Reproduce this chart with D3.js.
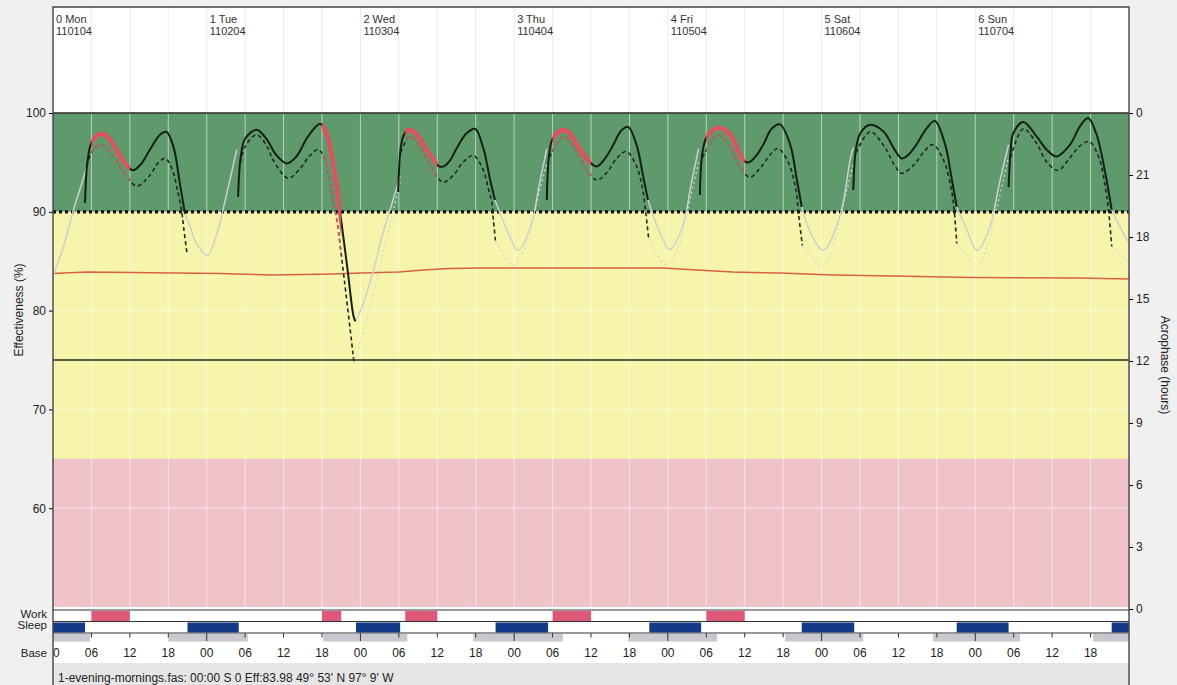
<!DOCTYPE html>
<html>
<head>
<meta charset="utf-8">
<script src="https://cdn.jsdelivr.net/npm/d3@7"></script>
<style>
  body { margin: 0; background: #f0f0f0; }
  svg { display: block; font-family: "Liberation Sans", Arial, sans-serif; }
</style>
</head>
<body>
<svg id="chart" width="1177" height="685"></svg>
<script>
// ---- data (x = hours from Mon 00:00, y = effectiveness %) ----
const dayNames = ["0 Mon", "1 Tue", "2 Wed", "3 Thu", "4 Fri", "5 Sat", "6 Sun"];
const dayDates = ["110104", "110204", "110304", "110404", "110504", "110604", "110704"];
const hourLabels = ["00", "06", "12", "18"];
const leftTicks = [100, 90, 80, 70, 60];
const rightTicks = [24, 21, 18, 15, 12, 9, 6, 3, 0];
const gridValues = [80, 70, 60];
const bandLimits = [[90, 100], [65, 90], [50, 65]];
const criterion = 75;
const threshold = 90;

const workPeriods = [[6, 12], [42, 45], [55, 60], [78, 84], [102, 108]];
const sleepPeriods = [[0, 5], [21, 29], [47.3, 54.2], [69.1, 77.3], [93.1, 101.2], [116.9, 125.1], [141.1, 149.2], [165.3, 168]];
const basePeriods = [[0, 5.8], [18, 30.4], [42.2, 55.3], [65.6, 79.6], [89.8, 103.7], [114.3, 126.5], [137.4, 151], [162.4, 168]];

const meanEff = [[0, 83.75], [5.3, 83.9], [26, 83.75], [33.9, 83.6], [43.7, 83.7], [48, 83.8], [54, 83.9], [57.8, 84.1],
  [62, 84.25], [66.7, 84.3], [95.2, 84.3], [100.5, 84.1], [106.2, 83.9], [113.5, 83.8], [121.8, 83.6], [131.1, 83.5],
  [143.6, 83.35], [160, 83.3], [168, 83.2]];

const effSolid = [
  [[5.0, 90.9], [5.3, 94.6], [5.8, 96.6], [6.5, 97.5], [7.6, 97.9], [8.8, 97.4], [9.9, 96.25], [11.5, 94.7], [12.5, 94.2], [13.7, 94.8], [15.1, 96.25], [16.7, 97.8], [17.7, 98.1], [18.8, 96.6], [19.8, 92.9], [20.6, 89.8]],
  [[28.9, 91.5], [29.3, 95.5], [30, 97.4], [31.8, 98.3], [33.3, 97.4], [34.8, 95.8], [36.5, 94.9], [38, 95.6], [39.8, 97.6], [41.7, 98.9], [42.7, 97.9], [43.8, 94.6], [44.5, 91.5], [44.9, 89.6], [46, 84.1], [46.9, 79.5], [47.2, 78.9]],
  [[53.9, 92], [54.3, 96.5], [54.8, 97.8], [55.7, 98.3], [56.8, 97.8], [57.8, 96.8], [59.2, 95.5], [60.3, 94.6], [61, 94.6], [62, 95.2], [63, 96.4], [64.5, 97.9], [65.9, 98.4], [67.2, 96.4], [68.2, 93.4], [69, 91.2]],
  [[77.1, 91.2], [77.5, 96], [78.1, 97.5], [79.7, 98.3], [80.8, 97.8], [81.8, 96.8], [83.2, 95.5], [84.4, 94.7], [85, 94.6], [86.2, 95.4], [87.5, 96.8], [88.7, 98.2], [89.8, 98.6], [91.1, 96.8], [92.2, 93.4], [92.9, 91.2]],
  [[101, 91.7], [101.4, 96], [102.1, 97.6], [103.9, 98.5], [105.7, 97.8], [107, 96.1], [107.8, 95.2], [108.6, 95], [109.7, 95.6], [110.9, 96.8], [112.2, 98.4], [113.5, 98.85], [115.1, 96.8], [116.1, 93.4], [116.9, 90.5]],
  [[124.95, 92.2], [125.4, 96.5], [126.1, 98], [127.6, 98.8], [129.7, 98.1], [131.3, 96.4], [132.5, 95.4], [133.6, 95.8], [134.8, 96.8], [136.4, 98.45], [137.7, 99.2], [139.3, 96.8], [140.3, 93.4], [141.1, 90.5]],
  [[149.2, 92.5], [149.5, 96], [149.9, 97.9], [151.5, 99.1], [153.6, 97.6], [155.2, 96.25], [156.7, 95.6], [158.8, 96.8], [160.3, 98.6], [161.6, 99.5], [162.9, 97.9], [164.3, 93.9], [165.3, 90.2]]
];

const effDashed = [
  [[5.3, 94.6], [6, 96], [7.5, 96.8], [9.5, 95.5], [11.5, 93.6], [13.1, 92.6], [15, 93.6], [16.5, 95], [17.5, 95.4], [18.5, 94.5], [19.4, 92.3], [20.1, 90], [20.4, 88.4], [20.9, 85.9]],
  [[29.3, 95], [30, 96.6], [31.8, 97.8], [33.5, 96.5], [34.4, 95.2], [36.7, 93.4], [38.5, 94.3], [40, 95.6], [41.4, 96.3], [42.5, 95.2], [43.7, 91.2], [44.3, 89.2], [45.5, 83], [47, 74.7]],
  [[54.3, 96], [55.7, 97.6], [57.5, 96.3], [59.5, 94], [60.9, 93], [62.5, 93.7], [64, 95], [65.6, 95.7], [67, 94.5], [68, 92.3], [68.5, 91], [68.75, 89.2], [69.1, 87]],
  [[77.5, 95.5], [79.7, 97.6], [81.5, 96.3], [83.3, 94.3], [84.9, 93.2], [86.5, 94], [88, 95.4], [89.5, 96.1], [91, 94.8], [92, 92.5], [92.5, 90.2], [93, 87.3]],
  [[101.4, 95.5], [103.9, 97.8], [105.8, 96.5], [107.3, 94.5], [108.8, 93.5], [110.5, 94.5], [112, 95.8], [113.2, 96.4], [114.8, 95], [116, 92.2], [116.4, 89.8], [117, 86.6]],
  [[125.4, 96], [127.6, 98.1], [129.8, 96.6], [131.5, 94.6], [132.5, 93.9], [134.5, 94.8], [136, 96.1], [137.4, 96.8], [139, 95.3], [140.2, 92.5], [140.7, 90.2], [141.1, 86.8]],
  [[149.5, 95.5], [151.5, 98.4], [153.5, 97], [155.2, 95], [156.9, 94.2], [158.8, 95.5], [160.4, 96.7], [161.8, 97.1], [163.3, 95.5], [164.3, 92.5], [164.8, 90.2], [165.3, 86.5]]
];

const grayCurve = [
  [[0, 83.5], [1.6, 86.4], [3.2, 90.2], [4.5, 92.9], [5.3, 94.6]],
  [[20.6, 89.8], [21.4, 88.5], [22.4, 86.8], [24.1, 85.6], [25.6, 87.8], [26.9, 91.2], [28.7, 96.3]],
  [[47.2, 78.9], [48.5, 80.8], [50, 84], [51.5, 87.8], [53, 91], [54.2, 93.6]],
  [[69, 91.2], [70.8, 88.3], [72.6, 86.1], [74.5, 88.3], [76, 93], [77.1, 96.4]],
  [[92.9, 91.2], [94.5, 88.3], [96.3, 86.2], [98.2, 88.3], [99.7, 93], [100.8, 96.4]],
  [[116.9, 90.5], [118.2, 88], [120.3, 86.1], [122.9, 89.7], [124.5, 95.4], [124.95, 96.5]],
  [[141.1, 90.5], [142.6, 88.3], [144.3, 86.1], [146.2, 88.3], [147.8, 93], [149.2, 96.8]],
  [[165.3, 90.2], [166.8, 88.2], [168, 86.8]]
];

const grayDotted = [
  [[47, 74.7], [48.8, 78.6], [50.5, 83], [52.3, 88], [54.2, 93]],
  [[69.1, 87], [70.5, 85.5], [71.8, 84.6], [73.4, 86], [75, 89.7], [77.1, 95]],
  [[93, 87.3], [94.5, 85.5], [95.8, 84.6], [97.4, 86], [99, 90], [100.8, 95]],
  [[117, 86.6], [118.5, 85.5], [120, 84.4], [121.5, 86], [123.3, 90.5], [125, 95]],
  [[141.1, 86.8], [142.6, 85.5], [144.1, 84.5], [145.6, 86], [147.4, 90.5], [149.2, 95.5]],
  [[165.3, 86.5], [168, 84.8]]
];

// ---- layout ----
const svg = d3.select("#chart");
const left = 53, right = 1129, frameTop = 7, plotTop = 113, plotBottom = 607;

const x = d3.scaleLinear().domain([0, 168]).range([left, right]);
const y = d3.scaleLinear().domain([50, 100]).range([plotBottom, plotTop]);
const yR = d3.scaleLinear().domain([0, 24]).range([609, 113]);
const line = d3.line().x(d => x(d[0])).y(d => y(d[1])).curve(d3.curveCatmullRom.alpha(0.5));

const defs = svg.append("defs");
defs.append("clipPath").attr("id", "plotClip")
  .append("rect").attr("x", left).attr("y", frameTop).attr("width", right - left).attr("height", 680);
const workClip = defs.append("clipPath").attr("id", "workClip");
workClip.selectAll("rect").data(workPeriods).join("rect")
  .attr("x", d => x(d[0])).attr("width", d => x(d[1]) - x(d[0]))
  .attr("y", plotTop).attr("height", plotBottom - plotTop);

// frame background
svg.append("rect").attr("x", left).attr("y", frameTop).attr("width", right - left).attr("height", plotTop - frameTop).attr("fill", "#fff");
svg.append("rect").attr("x", left).attr("y", plotBottom).attr("width", right - left).attr("height", 56).attr("fill", "#fff");
svg.append("rect").attr("x", left).attr("y", 663).attr("width", right - left).attr("height", 22).attr("fill", "#e6e6e6");

// effectiveness bands
const bandColors = ["#5f9a6d", "#f7f5ab", "#f0c3cb"];
svg.append("g").selectAll("rect").data(bandLimits).join("rect")
  .attr("x", left).attr("width", right - left)
  .attr("y", d => y(d[1])).attr("height", d => y(d[0]) - y(d[1]))
  .attr("fill", (d, i) => bandColors[i]);

// vertical grid every 6 h
const gridHours = d3.range(6, 168, 6);
svg.append("g").selectAll("line").data(gridHours).join("line")
  .attr("x1", d => x(d)).attr("x2", d => x(d))
  .attr("y1", frameTop).attr("y2", plotTop)
  .attr("stroke", "#ececec");
svg.append("g").selectAll("line").data(gridHours).join("line")
  .attr("x1", d => x(d)).attr("x2", d => x(d))
  .attr("y1", plotTop).attr("y2", plotBottom)
  .attr("stroke", "#fff").attr("stroke-opacity", 0.55);
svg.append("g").selectAll("line").data(gridValues).join("line")
  .attr("x1", left).attr("x2", right)
  .attr("y1", d => y(d)).attr("y2", d => y(d))
  .attr("stroke", "#fff").attr("stroke-opacity", 0.6);

// criterion line and mean effectiveness
svg.append("line").attr("x1", left).attr("x2", right).attr("y1", y(criterion)).attr("y2", y(criterion))
  .attr("stroke", "#1f2d1f").attr("stroke-width", 1.6);
svg.append("path").datum(meanEff).attr("d", d3.line().x(d => x(d[0])).y(d => y(d[1])))
  .attr("fill", "none").attr("stroke", "#d8613f").attr("stroke-width", 1.5);

// threshold dotted line
svg.append("line").attr("x1", left).attr("x2", right).attr("y1", y(threshold)).attr("y2", y(threshold))
  .attr("stroke", "#111").attr("stroke-width", 3.2).attr("stroke-dasharray", "3,3");

// curves
const curves = svg.append("g").attr("clip-path", "url(#plotClip)");
curves.selectAll(".gray").data(grayCurve).join("path").attr("class", "gray")
  .attr("d", line).attr("fill", "none").attr("stroke", "#cfcfcf").attr("stroke-width", 1.5);
curves.selectAll(".grayDot").data(grayDotted).join("path").attr("class", "grayDot")
  .attr("d", line).attr("fill", "none").attr("stroke", "#d6d6d6").attr("stroke-width", 1.3).attr("stroke-dasharray", "2,3");
curves.selectAll(".dashed").data(effDashed).join("path").attr("class", "dashed")
  .attr("d", line).attr("fill", "none").attr("stroke", "#1d2a1d").attr("stroke-width", 1.6).attr("stroke-dasharray", "4,3");
curves.selectAll(".solid").data(effSolid).join("path").attr("class", "solid")
  .attr("d", line).attr("fill", "none").attr("stroke", "#142014").attr("stroke-width", 2);

// work periods highlighted in red
const work = svg.append("g").attr("clip-path", "url(#workClip)");
work.selectAll(".wdash").data(effDashed).join("path").attr("class", "wdash")
  .attr("d", line).attr("fill", "none").attr("stroke", "#d9606a").attr("stroke-width", 1.6).attr("stroke-dasharray", "4,3");
work.selectAll(".wsolid").data(effSolid).join("path").attr("class", "wsolid")
  .attr("d", line).attr("fill", "none").attr("stroke", "#e2505f").attr("stroke-width", 4.4).attr("stroke-linecap", "round");

// top edge of the 100 band
svg.append("line").attr("x1", left).attr("x2", right).attr("y1", plotTop).attr("y2", plotTop)
  .attr("stroke", "#2a2a2a").attr("stroke-width", 1.5);

// work / sleep / base rows
const rowLines = [610, 621.5, 633];
svg.append("g").selectAll("line").data(rowLines).join("line")
  .attr("x1", left).attr("x2", right).attr("y1", d => d).attr("y2", d => d)
  .attr("stroke", "#333").attr("stroke-width", 1.2);
svg.append("g").selectAll("rect").data(workPeriods).join("rect")
  .attr("x", d => x(d[0])).attr("width", d => x(d[1]) - x(d[0]))
  .attr("y", 611).attr("height", 10).attr("fill", "#e05878");
svg.append("g").selectAll("rect").data(sleepPeriods).join("rect")
  .attr("x", d => x(d[0])).attr("width", d => x(d[1]) - x(d[0]))
  .attr("y", 622.5).attr("height", 10).attr("fill", "#133a86");
svg.append("g").selectAll("rect").data(basePeriods).join("rect")
  .attr("x", d => x(d[0])).attr("width", d => x(d[1]) - x(d[0]))
  .attr("y", 634).attr("height", 7.5).attr("fill", "#c9c8ce");

const tickHours = d3.range(0, 168, 6);
svg.append("g").selectAll("line").data(tickHours.filter(d => d > 0)).join("line")
  .attr("x1", d => x(d)).attr("x2", d => x(d))
  .attr("y1", 633).attr("y2", d => d % 24 === 0 ? 641 : 637.5)
  .attr("stroke", "#333");
svg.append("g").attr("clip-path", "url(#plotClip)")
  .selectAll("text").data(tickHours).join("text")
  .attr("x", d => x(d)).attr("y", 657).attr("text-anchor", "middle")
  .attr("font-size", 12).attr("fill", "#222")
  .text(d => hourLabels[(d % 24) / 6]);

svg.append("g").selectAll("text").data([["Work", 618], ["Sleep", 629], ["Base", 657]]).join("text")
  .attr("x", 47).attr("y", d => d[1]).attr("text-anchor", "end")
  .attr("font-size", 11.5).attr("fill", "#222").text(d => d[0]);

// header day labels
const dayG = svg.append("g").selectAll("g").data(dayNames).join("g")
  .attr("transform", (d, i) => `translate(${x(i * 24) + 3},0)`);
dayG.append("text").attr("y", 23).attr("font-size", 11).attr("fill", "#333").text(d => d);
dayG.append("text").attr("y", 35).attr("font-size", 11).attr("fill", "#333").text((d, i) => dayDates[i]);

// axes
svg.append("g").attr("transform", `translate(${left},0)`)
  .call(d3.axisLeft(y).tickValues(leftTicks).tickSize(4).tickFormat(d3.format("d")))
  .call(g => g.select(".domain").remove())
  .call(g => g.selectAll("text").attr("font-size", 12).attr("fill", "#222").attr("font-family", null));
svg.append("g").attr("transform", `translate(${right},0)`)
  .call(d3.axisRight(yR).tickValues(rightTicks).tickSize(4).tickFormat(d => d % 24))
  .call(g => g.select(".domain").remove())
  .call(g => g.selectAll("text").attr("font-size", 12).attr("fill", "#222").attr("font-family", null));

svg.append("text").attr("transform", "translate(23,310) rotate(-90)").attr("text-anchor", "middle")
  .attr("font-size", 12).attr("fill", "#222").text("Effectiveness (%)");
svg.append("text").attr("transform", "translate(1161,365) rotate(90)").attr("text-anchor", "middle")
  .attr("font-size", 12).attr("fill", "#222").text("Acrophase (hours)");

// frame lines
svg.append("path").attr("d", `M${left},685V${frameTop}H${right}V685`)
  .attr("fill", "none").attr("stroke", "#444").attr("stroke-width", 1.4);

svg.append("text").attr("x", 58).attr("y", 682).attr("font-size", 12).attr("fill", "#222")
  .text("1-evening-mornings.fas: 00:00 S 0 Eff:83.98  49° 53' N 97° 9' W");
</script>
</body>
</html>
